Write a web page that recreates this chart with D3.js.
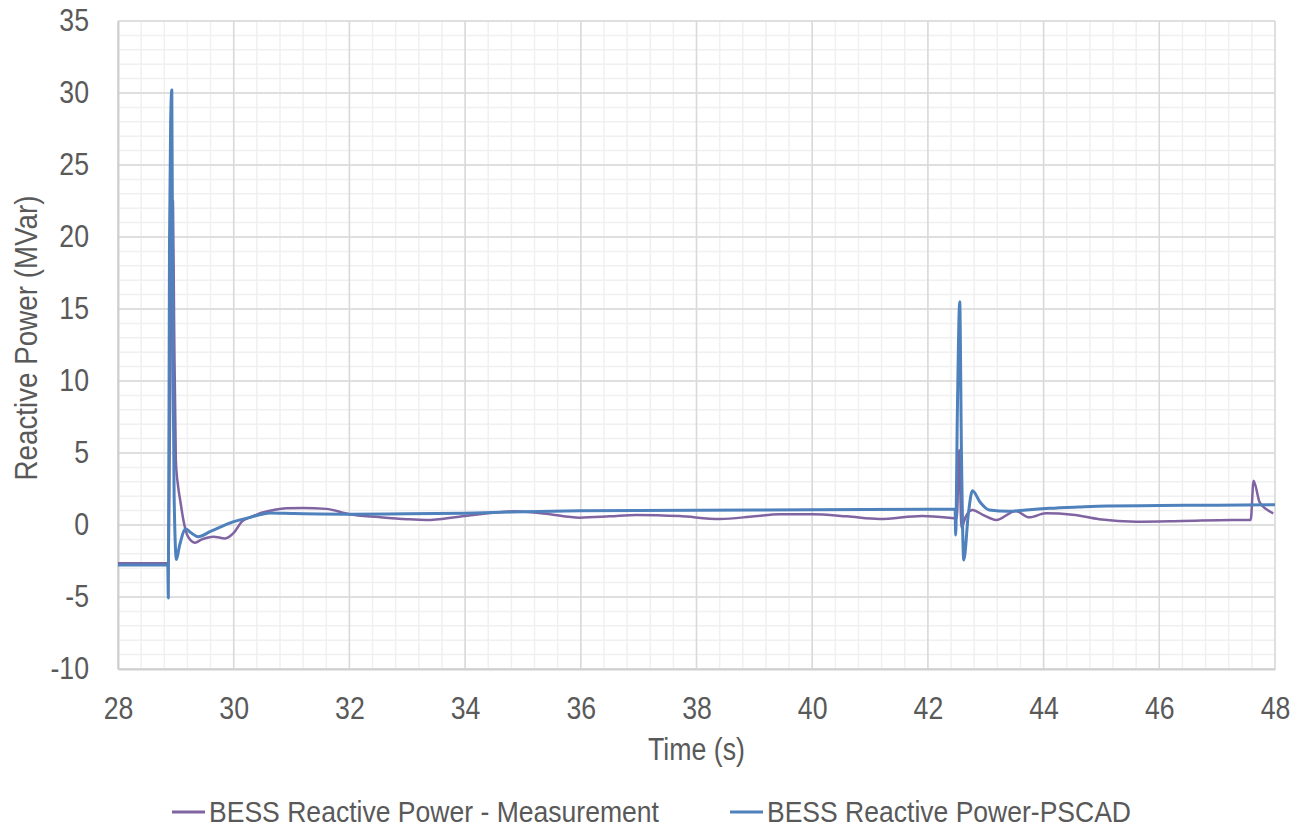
<!DOCTYPE html>
<html>
<head>
<meta charset="utf-8">
<script src="https://cdn.jsdelivr.net/npm/d3@7"></script>
<style>
  html, body { margin: 0; padding: 0; background: #fff; }
  svg { display: block; }
  text { font-family: "Liberation Sans Narrow", "Arial Narrow", "Liberation Sans", Arial, sans-serif; fill: #595959; }
</style>
</head>
<body>
<svg id="chart" width="1302" height="829"></svg>
<script>
// ---- Data ----
const xTicks = [28, 30, 32, 34, 36, 38, 40, 42, 44, 46, 48];
const yTicks = [-10, -5, 0, 5, 10, 15, 20, 25, 30, 35];
const seriesNames = ["BESS Reactive Power - Measurement", "BESS Reactive Power-PSCAD"];

const measTime = [28.00, 28.50, 28.87, 28.90, 28.93, 28.95, 28.97, 29.00, 29.04, 29.08, 29.13, 29.21, 29.33, 29.45, 29.65, 29.85, 30.00, 30.14, 30.30, 30.48, 30.70, 30.91, 31.20, 31.60, 32.00, 32.50, 33.00, 33.33, 33.90, 34.50, 34.85, 35.40, 35.98, 36.50, 36.96, 37.70, 38.40, 39.00, 39.43, 40.00, 40.60, 41.16, 41.90, 42.45, 42.50, 42.54, 42.58, 42.65, 42.77, 42.95, 43.18, 43.52, 43.75, 44.04, 44.50, 44.96, 45.60, 46.40, 47.26, 47.58, 47.63, 47.73, 47.85, 47.97];
const measValue = [-2.65, -2.65, -2.65, 8.0, 19.5, 22.5, 14.0, 4.5, 2.66, 1.6, 0.35, -0.81, -1.23, -1.0, -0.81, -0.93, -0.55, 0.23, 0.55, 0.85, 1.05, 1.16, 1.18, 1.12, 0.74, 0.55, 0.40, 0.35, 0.58, 0.85, 0.95, 0.78, 0.51, 0.60, 0.70, 0.62, 0.42, 0.60, 0.74, 0.74, 0.60, 0.42, 0.63, 0.47, 0.45, 5.2, -0.2, 0.55, 1.04, 0.70, 0.35, 0.97, 0.53, 0.81, 0.72, 0.40, 0.23, 0.28, 0.35, 0.35, 3.08, 1.62, 1.10, 0.81];

const pscadTime = [28.00, 28.50, 28.86, 28.87, 28.89, 28.91, 28.93, 28.95, 28.97, 29.01, 29.06, 29.17, 29.25, 29.38, 29.60, 30.00, 30.30, 30.63, 31.00, 32.00, 33.00, 34.00, 34.80, 35.98, 38.00, 40.00, 42.00, 42.47, 42.48, 42.51, 42.55, 42.58, 42.62, 42.70, 42.77, 42.90, 43.06, 43.40, 43.70, 44.10, 44.60, 45.10, 46.00, 47.00, 48.00];
const pscadValue = [-2.78, -2.78, -2.78, -5.07, 19.5, 28.0, 30.2, 12.0, 2.0, -2.4, -1.5, -0.28, -0.5, -0.81, -0.45, 0.23, 0.55, 0.83, 0.80, 0.75, 0.78, 0.82, 0.90, 0.99, 1.03, 1.06, 1.09, 1.10, -0.7, 8.0, 15.5, 5.0, -2.43, 0.8, 2.38, 1.6, 1.04, 0.95, 1.05, 1.16, 1.25, 1.32, 1.35, 1.38, 1.40];

// ---- Layout ----
const W = 1302, H = 829;
const margin = { left: 118, right: 1302 - 1275, top: 21, bottom: 829 - 669 };
const svg = d3.select("#chart");

const x = d3.scaleLinear().domain([28, 48]).range([margin.left, W - margin.right]);
const y = d3.scaleLinear().domain([-10, 35]).range([H - margin.bottom, margin.top]);

const colors = ["#8064A2", "#4F81BD"];
const squeeze = 0.86;
function condense(sel) {
  sel.each(function () {
    const w = this.getComputedTextLength();
    d3.select(this).attr("textLength", w * squeeze).attr("lengthAdjust", "spacingAndGlyphs");
  });
}

// Minor gridlines
const xMinor = d3.range(28, 48.0001, 0.4);
const yMinor = d3.range(-10, 35.0001, 1);
const grid = svg.append("g");
grid.selectAll(".xm").data(xMinor).join("line")
  .attr("x1", d => x(d)).attr("x2", d => x(d))
  .attr("y1", y(-10)).attr("y2", y(35))
  .attr("stroke", "#f0f0f0").attr("stroke-width", 1.5);
grid.selectAll(".ym").data(yMinor).join("line")
  .attr("x1", x(28)).attr("x2", x(48))
  .attr("y1", d => y(d)).attr("y2", d => y(d))
  .attr("stroke", "#f0f0f0").attr("stroke-width", 1.5);
// Major gridlines
grid.selectAll(".xM").data(xTicks).join("line")
  .attr("x1", d => x(d)).attr("x2", d => x(d))
  .attr("y1", y(-10)).attr("y2", y(35))
  .attr("stroke", "#d9d9d9").attr("stroke-width", 1.5);
grid.selectAll(".yM").data(yTicks).join("line")
  .attr("x1", x(28)).attr("x2", x(48))
  .attr("y1", d => y(d)).attr("y2", d => y(d))
  .attr("stroke", "#d9d9d9").attr("stroke-width", 1.5);

// Axes
const xAxis = svg.append("g").attr("transform", `translate(0,${y(-10)})`)
  .call(d3.axisBottom(x).tickValues(xTicks).tickSize(0).tickPadding(28).tickFormat(d => String(d)));
const yAxis = svg.append("g").attr("transform", `translate(${x(28)},0)`)
  .call(d3.axisLeft(y).tickValues(yTicks).tickSize(0).tickPadding(29).tickFormat(d => String(d)));
[xAxis, yAxis].forEach(a => {
  a.select(".domain").attr("stroke", "#cfcfcf").attr("stroke-width", 2);
  a.selectAll("text").attr("font-size", 31).attr("fill", "#595959")
    .style("font-family", '"Liberation Sans Narrow", "Arial Narrow", "Liberation Sans", Arial, sans-serif')
    .call(condense);
});

// Lines
const line = d3.line().x(d => x(d[0])).y(d => y(d[1])).curve(d3.curveMonotoneX);
const measData = measTime.map((t, i) => [t, measValue[i]]);
const pscadData = pscadTime.map((t, i) => [t, pscadValue[i]]);
svg.append("path").datum(measData).attr("d", line)
  .attr("fill", "none").attr("stroke", colors[0]).attr("stroke-width", 2.5).attr("stroke-linejoin", "round");
svg.append("path").datum(pscadData).attr("d", line)
  .attr("fill", "none").attr("stroke", colors[1]).attr("stroke-width", 3).attr("stroke-linejoin", "round");

// Axis titles
svg.append("text").attr("x", (x(28) + x(48)) / 2).attr("y", 760)
  .attr("text-anchor", "middle").attr("font-size", 31)
  .attr("textLength", 97).attr("lengthAdjust", "spacingAndGlyphs").text("Time (s)");
svg.append("text").attr("transform", `translate(37,338) rotate(-90)`)
  .attr("text-anchor", "middle").attr("font-size", 31)
  .attr("textLength", 285).attr("lengthAdjust", "spacingAndGlyphs").text("Reactive Power (MVar)");

// Legend
const legendX = [172, 730];
const legendW = [450, 364];
const lg = svg.append("g");
seriesNames.forEach((name, i) => {
  lg.append("line").attr("x1", legendX[i]).attr("x2", legendX[i] + 33)
    .attr("y1", 812).attr("y2", 812).attr("stroke", colors[i]).attr("stroke-width", 3);
  lg.append("text").attr("x", legendX[i] + 37).attr("y", 822)
    .attr("font-size", 30).attr("textLength", legendW[i]).attr("lengthAdjust", "spacingAndGlyphs").text(name);
});
</script>
</body>
</html>
